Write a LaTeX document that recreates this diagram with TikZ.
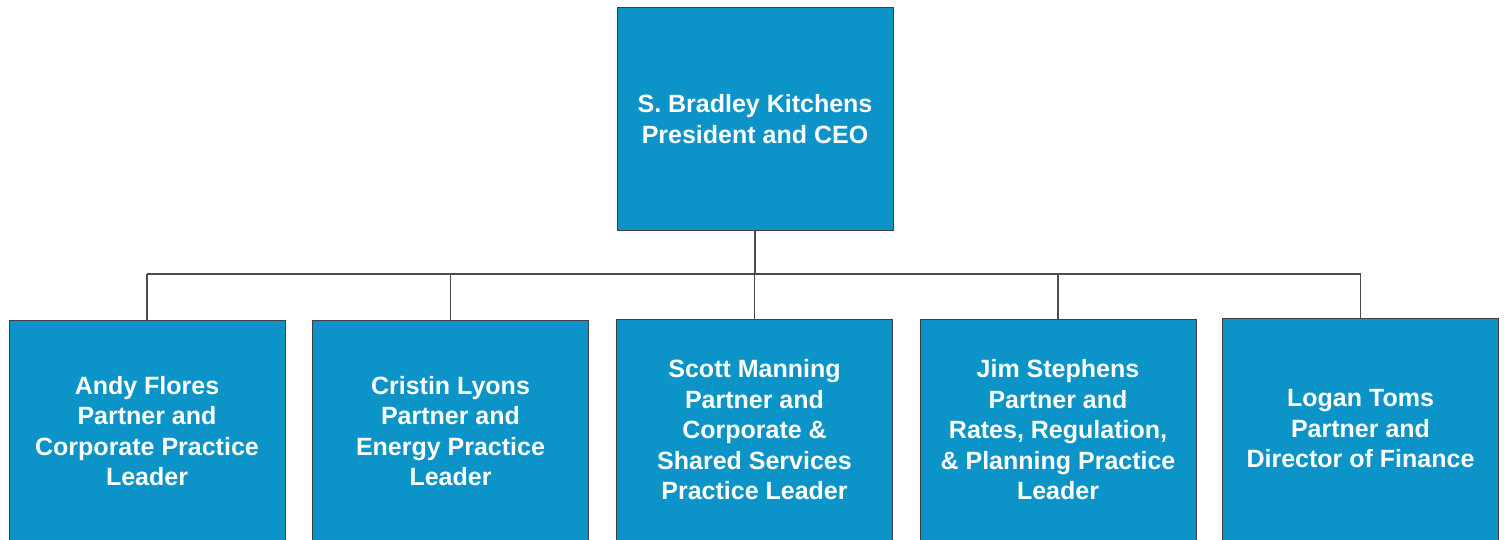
\documentclass[tikz,border=0pt]{standalone}
\usepackage{fontspec}
\setmainfont{Liberation Sans}
\definecolor{boxblue}{RGB}{12,148,200}

\begin{document}
\begin{tikzpicture}[x=1pt, y=-1pt,
    person/.style={draw=black!75, line width=1pt, fill=boxblue, text=white, align=center,
      minimum width=276pt, minimum height=222pt, font=\bfseries\fontsize{25}{30.5}\selectfont},
    link/.style={draw=black!70, line width=1.3pt}]
    \useasboundingbox (0,0) rectangle (1504,540);
    \node [person] (ceo) at (755,119) {S. Bradley Kitchens\\ President and CEO};
    \node [person] (flores) at (147,431) {Andy Flores\\ Partner and\\ Corporate Practice\\ Leader};
    \node [person] (lyons) at (450.5,431) {Cristin Lyons\\ Partner and\\ Energy Practice\\ Leader};
    \node [person] (manning) at (754.5,430) {Scott Manning\\ Partner and\\ Corporate \&\\ Shared Services\\ Practice Leader};
    \node [person] (stephens) at (1058,430) {Jim Stephens\\ Partner and\\ Rates, Regulation,\\ \& Planning Practice\\ Leader};
    \node [person] (toms) at (1360.5,429) {Logan Toms\\ Partner and\\ Director of Finance};
    \coordinate (bus) at (755,274);
%    connectors
    \draw [link] (ceo.south) -- (bus);
    \draw [link] (bus -| flores.north) -- (bus -| toms.north);
    \foreach \who in {flores,lyons,manning,stephens,toms}
      \draw [link] (bus -| \who.north) -- (\who.north);
\end{tikzpicture}
\end{document}
